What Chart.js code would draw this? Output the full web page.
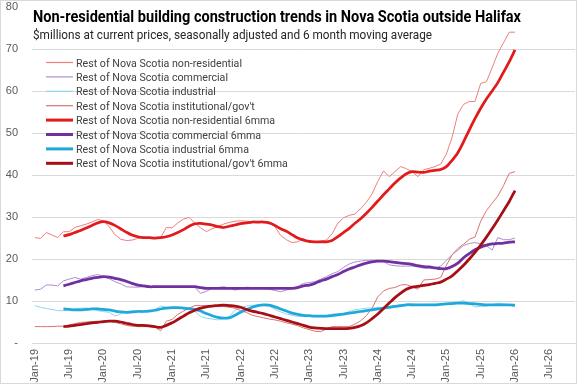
<!DOCTYPE html>
<html>
<head>
<meta charset="utf-8">
<script src="https://cdn.jsdelivr.net/npm/chart.js@4.4.1/dist/chart.umd.min.js"></script>
<style>
html, body { margin: 0; padding: 0; background: #fff; }
canvas { display: block; }
</style>
</head>
<body>
<canvas id="chart" width="577" height="385"></canvas>
<script>
const monthNames = ['Jan','Feb','Mar','Apr','May','Jun','Jul','Aug','Sep','Oct','Nov','Dec'];
const years = ['19','20','21','22','23','24','25','26'];
const months = [];
years.forEach(y => monthNames.forEach(m => months.push(m + '-' + y)));
months.pop(); // axis runs Jan-19 .. Nov-26

const titleText = 'Non-residential building construction trends in Nova Scotia outside Halifax';
const subtitleText = '$millions at current prices, seasonally adjusted and 6 month moving average';

const seriesLabels = [
  'Rest of Nova Scotia non-residential',
  'Rest of Nova Scotia commercial',
  'Rest of Nova Scotia industrial',
  'Rest of Nova Scotia institutional/gov\'t',
  'Rest of Nova Scotia non-residential 6mma',
  'Rest of Nova Scotia commercial 6mma',
  'Rest of Nova Scotia industrial 6mma',
  'Rest of Nova Scotia institutional/gov\'t 6mma'
];

// monthly values, Jan-19 .. Jan-26
const nonRes = [
  25.1, 24.9, 26.3, 25.7, 25.1, 26.5, 26.5, 27.5, 27.9, 28.3, 28.8, 29.4,
  29.1, 27.7, 25.8, 24.7, 24.4, 24.5, 24.9, 25.0, 25.0, 25.0, 25.1, 27.5,
  27.4, 28.6, 29.5, 29.9, 28.5, 27.4, 26.5, 27.2, 27.7, 28.3, 28.7, 29.0,
  29.1, 29.0, 28.9, 28.9, 28.9, 28.6, 27.7, 25.6, 24.6, 23.9, 24.1, 24.9,
  23.9, 24.0, 24.3, 24.5, 26.0, 28.5, 29.8, 30.4, 30.7, 32.0, 33.5, 35.5,
  38.5, 41.0, 39.6, 40.8, 42.0, 41.5, 40.8, 39.6, 41.2, 41.6, 42.0, 42.6,
  45.0, 49.0, 54.5, 56.8, 57.5, 57.5, 61.8, 62.2, 65.5, 69.0, 71.5, 74.0,
  74.0
];
const commercial = [
  12.6, 12.8, 13.8, 13.8, 13.6, 14.8, 15.2, 15.6, 15.2, 15.6, 16.0, 16.3,
  15.8, 15.3, 14.6, 14.1, 13.4, 13.3, 13.3, 13.4, 13.4, 13.5, 13.4, 13.4,
  13.4, 13.4, 13.4, 13.3, 13.3, 11.8, 12.3, 13.0, 13.2, 13.4, 13.1, 12.6,
  12.9, 13.3, 13.2, 13.1, 13.0, 12.8, 12.5, 12.2, 12.6, 13.0, 13.5, 14.2,
  14.4, 14.6, 15.2, 15.8, 16.5, 17.0, 18.0, 18.8, 19.3, 19.5, 19.7, 19.7,
  19.7, 19.5, 18.6, 18.4, 18.3, 18.3, 18.3, 18.1, 17.8, 17.8, 17.8, 18.3,
  19.7, 21.0, 22.1, 23.2, 23.7, 23.9, 23.6, 23.2, 22.1, 25.1, 24.6, 24.6,
  25.0
];
const industrial = [
  8.9, 8.5, 8.2, 8.0, 7.7, 7.7, 7.9, 8.1, 8.3, 8.3, 8.1, 7.7,
  7.5, 7.3, 6.4, 6.9, 7.5, 7.6, 7.7, 7.7, 7.8, 7.9, 8.8, 8.5,
  8.4, 8.3, 8.3, 8.3, 7.5, 6.3, 5.9, 5.7, 5.5, 5.8, 6.3, 7.8,
  8.4, 8.8, 9.0, 9.0, 8.9, 8.8, 8.0, 7.4, 6.9, 6.6, 6.3, 6.3,
  6.3, 6.3, 6.4, 6.5, 6.9, 7.0, 7.0, 7.5, 7.9, 8.1, 8.3, 8.3,
  8.4, 8.2, 8.7, 8.9, 9.1, 9.2, 9.3, 9.1, 9.1, 9.2, 9.2, 9.3,
  9.3, 9.5, 9.7, 10.1, 9.4, 8.6, 8.7, 8.8, 9.1, 9.5, 9.3, 9.1,
  8.6
];
const institutional = [
  3.9, 3.9, 3.9, 3.9, 4.0, 4.0, 4.3, 4.6, 4.9, 5.0, 5.1, 5.2,
  5.2, 5.2, 4.9, 4.6, 4.2, 4.0, 3.9, 3.9, 3.9, 3.8, 2.9, 5.2,
  5.6, 6.8, 7.6, 8.3, 8.9, 8.9, 8.9, 8.9, 8.8, 8.7, 8.5, 8.3,
  7.7, 7.3, 6.6, 6.3, 6.0, 5.7, 5.5, 5.2, 4.8, 4.5, 4.1, 3.6,
  3.2, 2.8, 2.7, 3.3, 3.9, 3.9, 3.9, 3.9, 4.5, 5.3, 6.5, 8.3,
  11.0, 12.4, 13.0, 13.2, 13.8, 13.9, 13.4, 12.8, 15.0, 15.1, 15.2, 15.6,
  18.5, 21.0, 22.5, 23.5, 24.7, 25.2, 29.0, 31.5, 33.3, 35.0, 37.5, 40.4,
  40.8
];

// 6 month moving averages, first value Jun-19
const nonResMA = [
  null, null, null, null, null, 25.5, 25.8, 26.3, 26.8, 27.4, 28.0, 28.6,
  28.9, 28.6, 28.0, 27.2, 26.4, 25.7, 25.3, 25.1, 25.1, 25.0, 25.1, 25.3,
  25.7, 26.3, 27.0, 27.8, 28.4, 28.5, 28.3, 28.1, 27.7, 27.5, 27.8, 28.1,
  28.4, 28.6, 28.8, 28.8, 28.8, 28.6, 28.0, 27.2, 26.6, 25.8, 25.0, 24.5,
  24.2, 24.1, 24.1, 24.1, 24.4, 25.3, 26.3, 27.3, 28.5, 29.6, 30.9, 32.3,
  33.8, 35.3, 36.7, 38.1, 39.3, 40.3, 40.8, 40.7, 40.6, 40.9, 41.1, 41.3,
  42.0, 43.5, 45.3, 47.9, 50.7, 53.4, 55.9, 58.1, 60.0, 62.0, 64.5, 67.0,
  69.8
];
const commercialMA = [
  null, null, null, null, null, 13.6, 14.0, 14.4, 14.8, 15.1, 15.4, 15.6,
  15.8, 15.7, 15.4, 15.1, 14.7, 14.2, 13.8, 13.6, 13.4, 13.4, 13.4, 13.4,
  13.4, 13.4, 13.4, 13.4, 13.4, 13.2, 13.0, 13.0, 13.0, 13.0, 13.0, 13.0,
  13.0, 13.0, 13.0, 13.0, 13.0, 13.0, 13.0, 13.0, 13.0, 13.0, 13.2, 13.6,
  13.8, 14.2, 14.8, 15.2, 15.8, 16.3, 17.0, 17.6, 18.1, 18.6, 19.0, 19.3,
  19.5, 19.5, 19.4, 19.2, 19.0, 18.9, 18.7, 18.4, 18.2, 18.1, 17.9, 17.7,
  17.7, 18.2, 19.0, 20.3, 21.3, 22.2, 22.8, 23.3, 23.6, 23.7, 23.8, 24.0,
  24.1
];
const industrialMA = [
  null, null, null, null, null, 8.1, 8.0, 7.9, 7.9, 8.0, 8.1, 8.1,
  8.0, 7.9, 7.6, 7.4, 7.3, 7.4, 7.5, 7.5, 7.6, 7.8, 8.1, 8.3,
  8.4, 8.4, 8.3, 8.2, 8.0, 7.6, 7.0, 6.5, 6.1, 5.9, 6.0, 6.6,
  7.3, 7.9, 8.5, 8.9, 9.1, 9.0, 8.6, 8.1, 7.6, 7.1, 6.8, 6.6,
  6.5, 6.4, 6.4, 6.4, 6.5, 6.7, 6.9, 7.1, 7.3, 7.5, 7.7, 7.9,
  8.1, 8.3, 8.5, 8.7, 8.9, 9.1, 9.1, 9.1, 9.1, 9.1, 9.1, 9.2,
  9.3, 9.4, 9.5, 9.5, 9.4, 9.3, 9.2, 9.1, 9.1, 9.1, 9.1, 9.1,
  9.0
];
const institutionalMA = [
  null, null, null, null, null, 3.9, 4.0, 4.2, 4.4, 4.6, 4.8, 4.9,
  5.1, 5.2, 5.2, 5.0, 4.7, 4.4, 4.2, 4.2, 4.1, 3.9, 3.7, 4.2,
  4.8, 5.6, 6.4, 7.2, 7.8, 8.3, 8.6, 8.8, 8.9, 9.0, 8.9, 8.8,
  8.5, 8.0, 7.6, 7.3, 7.0, 6.6, 6.2, 5.8, 5.4, 5.0, 4.6, 4.2,
  3.8, 3.6, 3.5, 3.4, 3.4, 3.4, 3.4, 3.5, 3.7, 4.1, 4.8, 5.8,
  6.9, 8.2, 9.5, 10.8, 11.9, 12.8, 13.3, 13.5, 13.7, 13.9, 14.2, 14.5,
  15.2, 16.0, 17.2, 18.5, 20.0, 21.6, 23.3, 25.2, 27.2, 29.3, 31.5, 33.7,
  36.3
];

const yTicks = [0, 10, 20, 30, 40, 50, 60, 70, 80];

const seriesData = [nonRes, commercial, industrial, institutional, nonResMA, commercialMA, industrialMA, institutionalMA];
const seriesColors = ['#ef7f7c', '#ab8fcf', '#8fd6ef', '#d9736f', '#e31a1c', '#7030a0', '#1fa8dc', '#a50f15'];
const seriesWidths = [1, 1, 1, 1, 2.75, 2.75, 2.75, 2.75];

function drawFitted(ctx, text, font, x, y, width, color) {
  ctx.font = font;
  const w = ctx.measureText(text).width;
  ctx.save();
  ctx.translate(x, y);
  ctx.scale(width / w, 1);
  ctx.fillStyle = color;
  ctx.textBaseline = 'alphabetic';
  ctx.fillText(text, 0, 0);
  ctx.restore();
}

const decorations = {
  id: 'decorations',
  afterDraw(chart) {
    const ctx = chart.ctx;
    ctx.save();
    ctx.strokeStyle = '#d9d9d9';
    ctx.lineWidth = 1;
    ctx.strokeRect(0.5, 0.5, 576, 383);

    drawFitted(ctx, titleText, 'bold 16px Roboto', 33, 22, 488, '#000000');
    drawFitted(ctx, subtitleText, '13px Roboto', 33, 39, 399, '#262626');

    // legend inside the plot
    ctx.font = '11.5px Roboto';
    const sx = 166 / ctx.measureText(seriesLabels[0]).width;
    seriesLabels.forEach((label, i) => {
      const y = 62.5 + i * 14.4;
      ctx.beginPath();
      ctx.strokeStyle = seriesColors[i];
      ctx.lineWidth = seriesWidths[i] > 1 ? 3 : 1.2;
      ctx.moveTo(46, y);
      ctx.lineTo(73, y);
      ctx.stroke();
      ctx.save();
      ctx.translate(76, y + 4);
      ctx.scale(sx, 1);
      ctx.fillStyle = '#404040';
      ctx.fillText(label, 0, 0);
      ctx.restore();
    });
    ctx.restore();
  }
};

const datasets = seriesLabels.map((label, i) => ({
  label: label,
  data: seriesData[i],
  borderColor: seriesColors[i],
  borderWidth: seriesWidths[i],
  pointRadius: 0,
  tension: seriesWidths[i] > 1 ? 0.3 : 0,
  fill: false,
  order: seriesLabels.length - i
}));

new Chart(document.getElementById('chart'), {
  type: 'line',
  data: { labels: months, datasets: datasets },
  options: {
    responsive: false,
    animation: false,
    devicePixelRatio: 1,
    layout: { padding: { top: 7, right: 2, left: 0, bottom: 0 } },
    plugins: { legend: { display: false }, tooltip: { enabled: false } },
    scales: {
      x: {
        offset: true,
        grid: { display: false, drawTicks: false },
        border: { color: '#d9d9d9' },
        ticks: {
          autoSkip: false,
          maxRotation: 90,
          minRotation: 90,
          padding: 6,
          color: '#595959',
          font: { family: 'Liberation Sans', size: 11 },
          callback: function (v, i) {
            const m = months[i].slice(0, 3);
            return (m === 'Jan' || m === 'Jul') ? months[i] : '';
          }
        },
        afterFit: s => { s.height = 42; s.paddingLeft = 0; s.paddingRight = 0; }
      },
      y: {
        min: 0,
        max: 80,
        afterBuildTicks: s => { s.ticks = yTicks.map(v => ({ value: v })); },
        grid: {
          drawTicks: false,
          color: c => (c.tick && c.tick.value === 80) ? 'rgba(0,0,0,0)' : '#d9d9d9'
        },
        border: { display: false },
        ticks: {
          padding: 14,
          color: '#595959',
          font: { family: 'Liberation Sans', size: 11 },
          callback: v => v === 0 ? '-' : v
        },
        afterFit: s => { s.width = 32; s.paddingTop = 0; s.paddingBottom = 0; }
      }
    }
  },
  plugins: [decorations]
});
</script>
</body>
</html>
